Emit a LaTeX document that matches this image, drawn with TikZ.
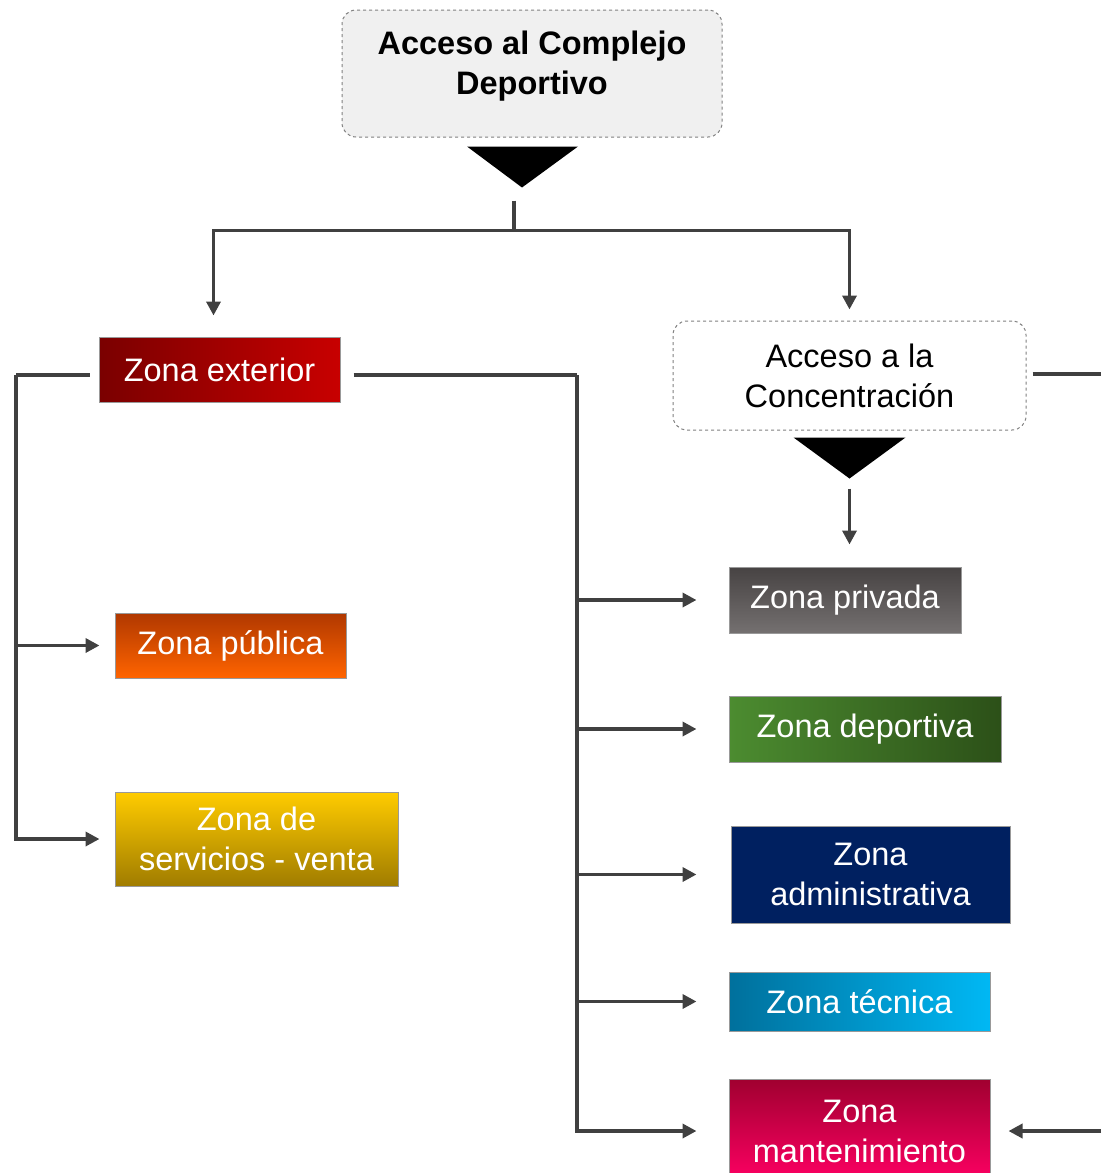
\documentclass[tikz,border=0pt]{standalone}
\usepackage{fontspec}
\setmainfont{Liberation Sans}
\usetikzlibrary{arrows.meta, calc, positioning}

\definecolor{linegray}{HTML}{404040}
\definecolor{boxgray}{HTML}{F0F0F0}
\definecolor{extA}{HTML}{7A0000}
\definecolor{extB}{HTML}{C80000}
\definecolor{pubA}{HTML}{B03800}
\definecolor{pubB}{HTML}{FF6400}
\definecolor{servA}{HTML}{FFCC00}
\definecolor{servB}{HTML}{A07C00}
\definecolor{privA}{HTML}{474343}
\definecolor{privB}{HTML}{747070}
\definecolor{depA}{HTML}{4C8C30}
\definecolor{depB}{HTML}{2C5018}
\definecolor{admC}{HTML}{002060}
\definecolor{tecA}{HTML}{00709C}
\definecolor{tecB}{HTML}{00B8F4}
\definecolor{mantA}{HTML}{A00030}
\definecolor{mantB}{HTML}{FF0064}

\tikzset{
    zone/.style={draw=gray!80, line width=1pt, text=white, align=center,
        font=\fontsize{32.5}{40}\selectfont, inner sep=0pt},
    accessbox/.style={draw=gray, dashed, line width=1pt, rounded corners=14pt,
        align=center, inner sep=0pt, font=\fontsize{32.5}{40}\selectfont},
    link/.style={draw=linegray, line width=3.5pt},
    arr/.style={link, -{Triangle[length=14pt,width=14pt]}},
}

\begin{document}
\begin{tikzpicture}[x=1pt, y=-1pt]
    \useasboundingbox (0,0) rectangle (1101,1173);
    % access boxes
    \node[accessbox, fill=boxgray, minimum width=380, minimum height=127,
        label={[font=\fontsize{32.5}{40}\selectfont\bfseries, align=center, yshift=7pt]center:Acceso al Complejo\\Deportivo}]
        (top) at (532,73.5) {};
    \node[accessbox, fill=white, minimum width=353, minimum height=109] (conc) at (849.5,375.5) {Acceso a la\\Concentración};
    % zones
    \node[zone, minimum width=241, minimum height=65, left color=extA, right color=extB] (ext) at (219.5,369.5) {Zona exterior};
    \node[zone, minimum width=231, minimum height=65, top color=pubA, bottom color=pubB] (pub) at (230.5,645.5) {Zona pública};
    \node[zone, minimum width=283, minimum height=94, top color=servA, bottom color=servB] (serv) at (256.5,839) {Zona de\\servicios - venta};
    \node[zone, minimum width=232, minimum height=66, top color=privA, bottom color=privB] (priv) at (845,600) {Zona privada};
    \node[zone, minimum width=272, minimum height=66, left color=depA, right color=depB] (dep) at (865,729) {Zona deportiva};
    \node[zone, minimum width=279, minimum height=97, fill=admC] (adm) at (870.5,874.5) {Zona\\administrativa};
    \node[zone, minimum width=261, minimum height=59, left color=tecA, right color=tecB] (tec) at (859.5,1001.5) {Zona técnica};
    \node[zone, minimum width=261, minimum height=104, top color=mantA, bottom color=mantB] (mant) at (859.5,1131) {Zona\\mantenimiento};

    % triangles under the access boxes
    \fill[black] ($(top.south)+(-65,9)$) -- ++(111,0) -- ($(top.south)+(-10,50)$) -- cycle;
    \fill[black] ($(conc.south)+(-56,7)$) -- ++(112,0) -- ($(conc.south)+(0,48)$) -- cycle;

    % junction points
    \coordinate (topstem) at ($(top.south)+(-18,63)$);
    \coordinate (split) at ($(top.south)+(-18,93)$);
    \coordinate (extL) at (16,375);
    \coordinate (extR) at (577,375);
    \coordinate (edgeR) at (1101,374);

    % connectors
    \draw[link] (topstem) -- (split);
    \draw[arr, shorten >=21pt] (split) -| ([xshift=-6pt]ext.north);
    \draw[arr, shorten >=11pt] (split) -| (conc.north);
    \draw[link] ([xshift=-9pt]ext.west |- extL) -- (extL);
    \draw[arr, shorten >=15pt] (extL) |- (pub.west);
    \draw[arr, shorten >=15pt] (extL) |- (serv.west);
    \draw[link] ([xshift=13pt]ext.east |- extR) -- (extR);
    \foreach \z in {priv, dep, adm, tec, mant}
        \draw[arr, shorten >=32pt] (extR) |- (\z.west -| priv.west);
    \draw[arr, shorten <=58pt, shorten >=22pt] (conc.south) -- (conc.south |- priv.north);
    \draw[link] ([xshift=6pt]conc.east |- edgeR) -- (edgeR);
    \draw[arr, shorten >=18pt] (mant.east -| edgeR) -- (mant.east);
\end{tikzpicture}
\end{document}
